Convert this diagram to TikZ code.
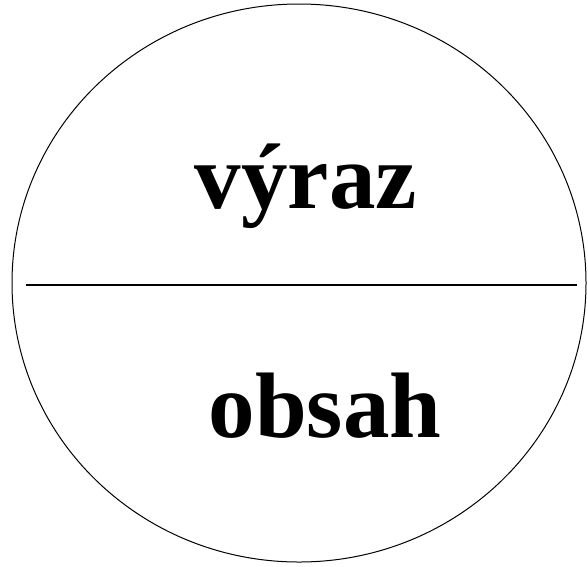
\documentclass[tikz,border=0pt]{standalone}
\usepackage{fontspec}
\setmainfont{Liberation Serif}
\begin{document}
\begin{tikzpicture}[x=1pt,y=-1pt,
  word/.style={font=\fontsize{93}{93}\selectfont\bfseries, anchor=base, inner sep=0pt}]
\useasboundingbox (0,0) rectangle (588,566);
\draw[line width=1pt] (299,283) ellipse [x radius=287, y radius=279];
\coordinate (l) at (26,285);
\coordinate (r) at (577,285);
\draw[line width=2pt] (l) -- (r);
\node[word] (top) at (306,208) {výraz};
\node[word] (bot) at (325,437) {obsah};
\end{tikzpicture}
\end{document}
